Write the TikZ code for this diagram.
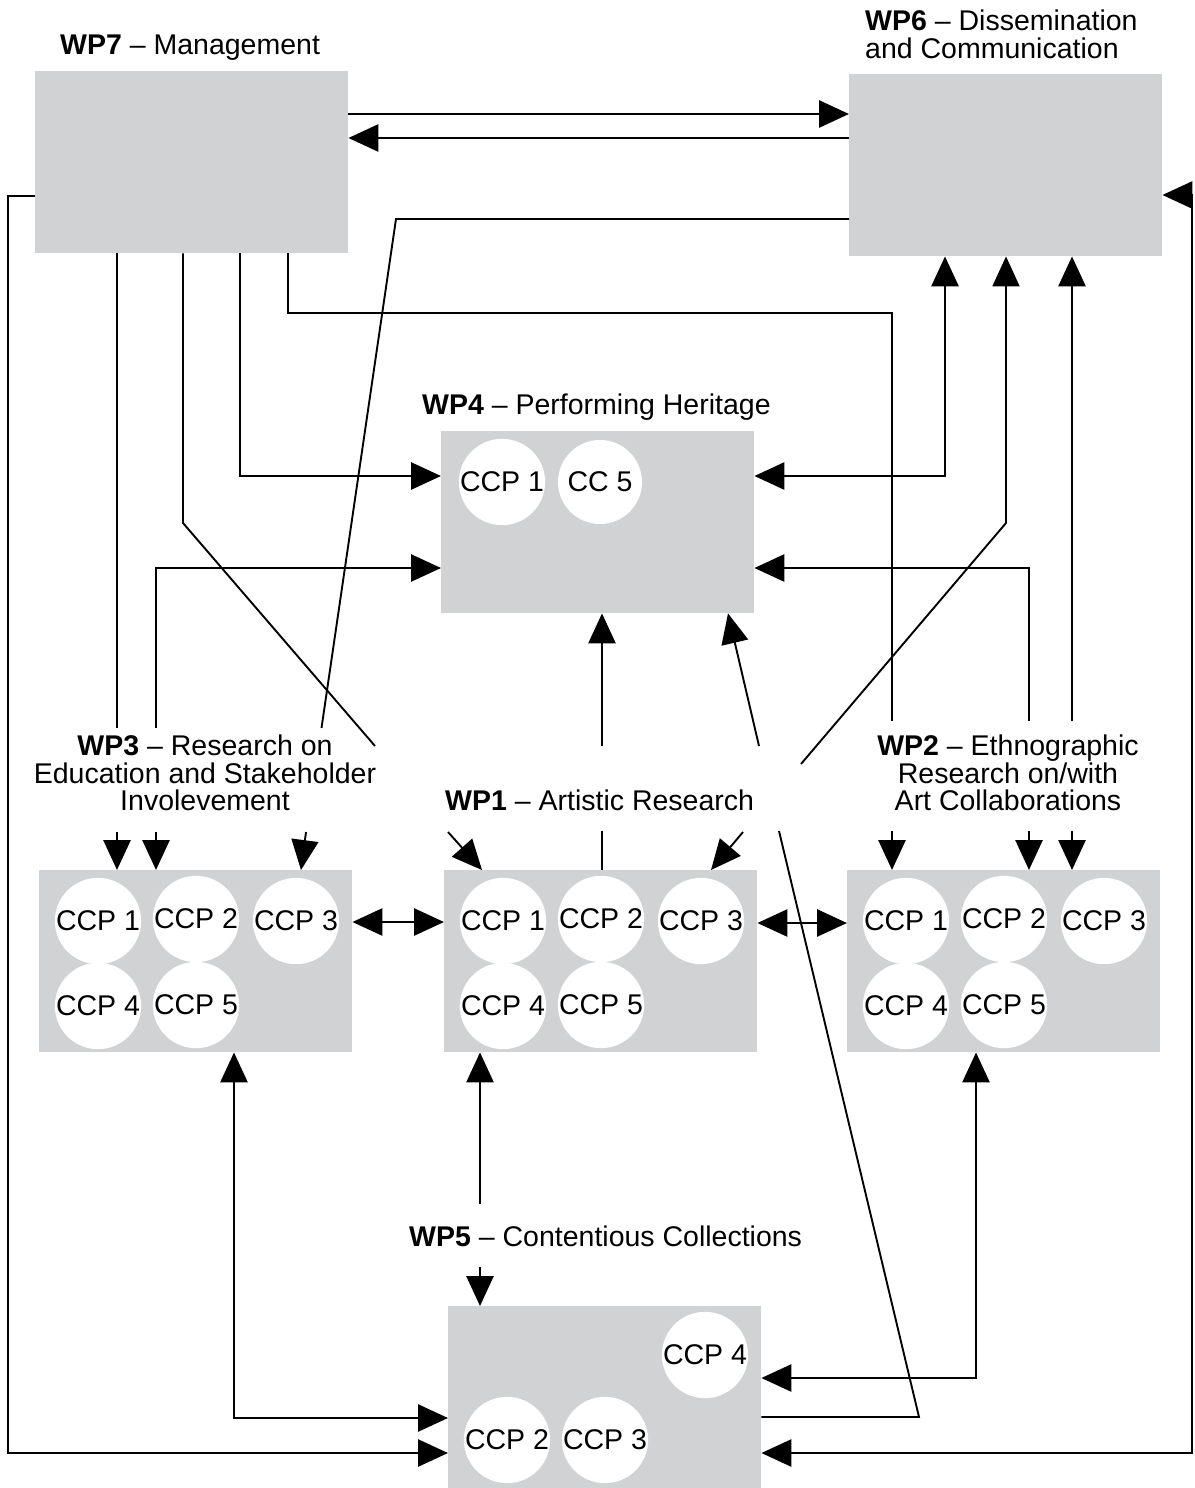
\documentclass[tikz,border=0pt]{standalone}
\usepackage{fontspec}
\setmainfont{Liberation Sans}
\usetikzlibrary{arrows.meta,calc}
\definecolor{wpgray}{RGB}{209,210,212}

\begin{document}
\begin{tikzpicture}[x=1pt,y=-1pt,
    font=\fontsize{28.5}{27.5}\selectfont,
    >={Triangle[length=30pt,width=27pt]},
    wp/.style={fill=wpgray,minimum width=313pt,minimum height=182pt,inner sep=0pt,anchor=north west},
    ccp/.style={circle,fill=white,minimum size=84pt,inner sep=0pt},
    lab/.style={inner sep=0pt},
    wire/.style={line width=2.8pt},
    slant/.style={line width=1.9pt}]
\useasboundingbox (0,0) rectangle (1194,1488);

% work packages
\node[wp] (wp7) at (35,71) {};
\node[wp] (wp6) at (849,74) {};
\node[wp] (wp4) at (441,431) {};
\node[wp] (wp3) at (39,870) {};
\node[wp] (wp1) at (444,870) {};
\node[wp] (wp2) at (847,870) {};
\node[wp] (wp5) at (448,1306) {};

% case study circles
\foreach \b in {wp3,wp1,wp2}
  \foreach \n/\dx/\dy in {1/59/51,2/157/49,3/257/51,4/59/136,5/157/135}
    \node[ccp] (\b c\n) at ($(\b.north west)+(\dx,\dy)$) {CCP \n};
\node[ccp] (wp4c1) at ($(wp4.north west)+(61,51)$) {CCP 1};
\node[ccp] (wp4c5) at ($(wp4.north west)+(159,51)$) {CC 5};
\node[ccp] (wp5c4) at ($(wp5.north west)+(257,49)$) {CCP 4};
\node[ccp] (wp5c2) at ($(wp5.north west)+(59,134)$) {CCP 2};
\node[ccp] (wp5c3) at ($(wp5.north west)+(157,134)$) {CCP 3};

% titles
\node[lab,anchor=base west] (lab7) at (60,55) {\textbf{WP7} – Management};
\node[lab,anchor=north west,align=left] (lab6) at (865,10) {\textbf{WP6} – Dissemination\\and Communication};
\node[lab,anchor=base west] (lab4) at (422,414) {\textbf{WP4} – Performing Heritage};
\node[lab,anchor=north,align=center] (lab3) at (205,735) {\textbf{WP3} – Research on\\Education and Stakeholder\\Involevement};
\node[lab,anchor=base west] (lab1) at (445,810) {\textbf{WP1} – Artistic Research};
\node[lab,anchor=north,align=center] (lab2) at (1008,735) {\textbf{WP2} – Ethnographic\\Research on/with\\Art Collaborations};
\node[lab,anchor=base west] (lab5) at (409,1246) {\textbf{WP5} – Contentious Collections};

% free ends at the titles
\coordinate (m3a) at (117,728);  \coordinate (m3b) at (117,832);
\coordinate (s3a) at (156,728);  \coordinate (s3b) at (156,832);
\coordinate (d3a) at (321.5,728); \coordinate (d3b) at (306,832);
\coordinate (d1a) at (375,746);  \coordinate (d1b) at (448,832);
\coordinate (e1a) at (801,764);  \coordinate (e1b) at (743,832);
\coordinate (v1a) at (602,746);  \coordinate (v1b) at (602,831);
\coordinate (f1a) at (759,746);  \coordinate (f1b) at (779,831);
\coordinate (m2a) at (892,721);  \coordinate (m2b) at (892,831);
\coordinate (s2a) at (1029,721); \coordinate (s2b) at (1029,831);
\coordinate (t2a) at (1072,721); \coordinate (t2b) at (1072,831);
\coordinate (v5a) at (480,1204); \coordinate (v5b) at (480,1267);

% WP7 and WP6
\draw[wire,->] (wp7.east |- 0,114) -- (wp6.west |- 0,114);
\draw[wire,->] (wp6.west |- 0,138) -- (wp7.east |- 0,138);
\draw[wire,->] (wp7.west |- 0,196) -| (8,1453) -- (wp5.west |- 0,1453);
\draw[wire,<->] (wp6.east |- 0,195) -| (1192,1453) -- (wp5.east |- 0,1453);
\draw[slant] (wp6.west |- 0,219) -- (396,219) -- (d3a);
\draw[slant,->] (d3b) -- (301,0 |- wp3.north);

% WP7 down to the others
\draw[wire] (wp7.south -| m3a) -- (m3a);
\draw[wire,->] (m3b) -- (m3b |- wp3.north);
\draw[slant] (wp7.south -| 183,0) -- (183,523) -- (d1a);
\draw[slant,->] (d1b) -- (482,0 |- wp1.north);
\draw[wire,->] (wp7.south -| 240,0) |- (wp4.west |- 0,476);
\draw[wire] (wp7.south -| 288,0) |- (892,313) -- (m2a);
\draw[wire,->] (m2b) -- (m2b |- wp2.north);

% up to WP6
\draw[wire,<->] (wp4.east |- 0,476) -| (945,0 |- wp6.south);
\draw[slant,->] (e1a) -- (1006,523) -- (1006,0 |- wp6.south);
\draw[slant,->] (e1b) -- (711,0 |- wp1.north);
\draw[wire,->] (t2a) -- (t2a |- wp6.south);
\draw[wire,->] (t2b) -- (t2b |- wp2.north);

% into WP4
\draw[wire,->] (s2a) |- (wp4.east |- 0,568);
\draw[wire,->] (s2b) -- (s2b |- wp2.north);
\draw[wire,->] (s3a) |- (wp4.west |- 0,568);
\draw[wire,->] (s3b) -- (s3b |- wp3.north);
\draw[wire,->] (v1a) -- (v1a |- wp4.south);
\draw[wire] (v1b) -- (v1b |- wp1.north);
\draw[slant,->] (f1a) -- (728,0 |- wp4.south);
\draw[slant] (wp5.east |- 0,1417) -- (919,1417) -- (f1b);

% side by side
\draw[wire,<->] (wp3.east |- 0,922) -- (wp1.west |- 0,922);
\draw[wire,<->] (wp1.east |- 0,923) -- (wp2.west |- 0,923);

% WP5
\draw[wire,<->] (234,0 |- wp3.south) |- (wp5.west |- 0,1418);
\draw[wire,->] (v5a) -- (v5a |- wp1.south);
\draw[wire,->] (v5b) -- (v5b |- wp5.north);
\draw[wire,<->] (976,0 |- wp2.south) |- (wp5.east |- 0,1378);
\end{tikzpicture}
\end{document}
